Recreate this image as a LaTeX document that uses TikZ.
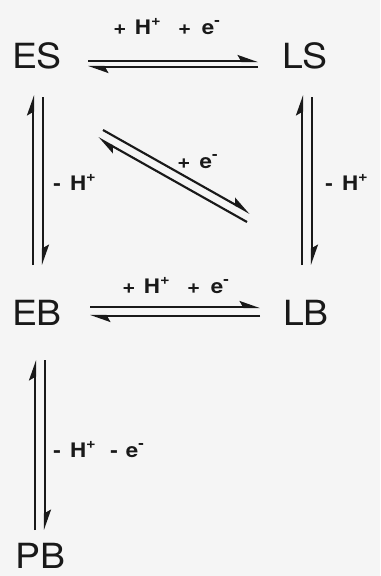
\documentclass[tikz,border=0pt]{standalone}
\usepackage{fontspec}
\setmainfont{TeX Gyre Heros}
\newfontfamily\specfont[FakeStretch=1.08]{TeX Gyre Heros}
\newfontfamily\labfont[FakeStretch=1.12,UprightFont=*,BoldFont=* Bold]{TeX Gyre Heros}
\usetikzlibrary{arrows.meta}
\definecolor{ink}{RGB}{25,25,25}
\definecolor{paper}{RGB}{245,245,245}
\newcommand{\supp}[1]{\raisebox{0.42em}{\fontsize{11}{11}\selectfont #1}}
\begin{document}
\begin{tikzpicture}[x=0.75pt,y=-0.75pt,
  species/.style={inner sep=0pt,anchor=base,text=ink,font=\specfont\fontsize{26}{30}\selectfont},
  cond/.style={inner sep=0pt,anchor=base west,text=ink,font=\labfont\fontsize{15}{17}\selectfont\bfseries},
  harp/.style={draw=ink,line width=1.6pt,-{Stealth[harpoon,length=13pt,width=9pt,inset=2.5pt]}}]
\useasboundingbox[fill=paper] (0,0) rectangle (380,576);
% species
\node[species] (ES) at (37,68) {ES};
\node[species] (LS) at (305,68) {LS};
\node[species] (EB) at (37,325) {EB};
\node[species] (LB) at (306,325) {LB};
\node[species] (PB) at (40,568) {PB};
% ES <=> LS
\draw[harp] ([shift={(51,-7)}]ES.base) -- ([shift={(-47,-7)}]LS.base);
\draw[harp] ([shift={(-47,-1)}]LS.base) -- ([shift={(51,-1)}]ES.base);
% EB <=> LB
\draw[harp] ([shift={(53,-18)}]EB.base) -- ([shift={(-46,-18)}]LB.base);
\draw[harp] ([shift={(-46,-9)}]LB.base) -- ([shift={(53,-9)}]EB.base);
% ES <=> EB
\draw[harp] ([shift={(-4,-60)}]EB.base) -- ([shift={(-4,27)}]ES.base);
\draw[harp] ([shift={(6,29)}]ES.base) -- ([shift={(6,-60)}]EB.base);
% LS <=> LB
\draw[harp] ([shift={(-4,-60)}]LB.base) -- ([shift={(-3,27)}]LS.base);
\draw[harp] ([shift={(7,29)}]LS.base) -- ([shift={(6,-60)}]LB.base);
% EB <=> PB
\draw[harp] ([shift={(-5,-38)}]PB.base) -- ([shift={(-2,35)}]EB.base);
\draw[harp] ([shift={(8,35)}]EB.base) -- ([shift={(5,-38)}]PB.base);
% diagonal ES <=> LB
\draw[harp] ([shift={(66,62)}]ES.base) -- ([shift={(-56,-112)}]LB.base);
\draw[harp] ([shift={(-59,-103)}]LB.base) -- ([shift={(61,70)}]ES.base);
% conditions
\node[cond] (c1) at (113,34) {+\hspace{6.5pt}H\supp{+}\hspace{13pt}+\hspace{8pt}e\supp{-}};
\node[cond] (c2) at (122,293) {+\hspace{6.5pt}H\supp{+}\hspace{13pt}+\hspace{8pt}e\supp{-}};
\node[cond] (c3) at (53,190) {-\hspace{7pt}H\supp{+}};
\node[cond] (c4) at (325,190) {-\hspace{7pt}H\supp{+}};
\node[cond] (c5) at (177,168) {+\hspace{7pt}e\supp{-}};
\node[cond] (c6) at (53,457) {-\hspace{7pt}H\supp{+}\hspace{11pt}-\hspace{6pt}e\supp{-}};
\end{tikzpicture}
\end{document}
